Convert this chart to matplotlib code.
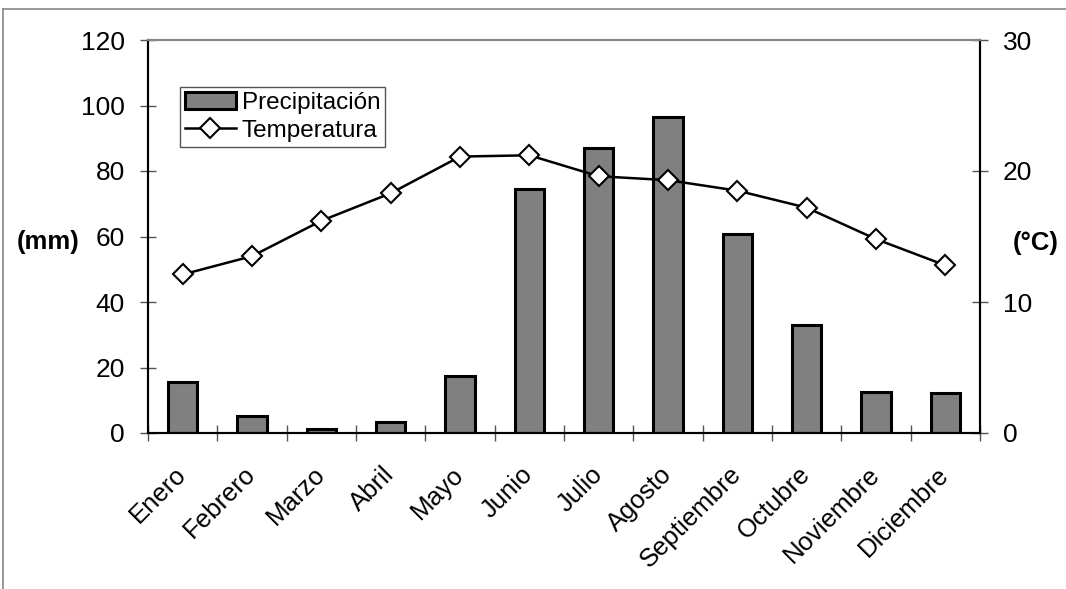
import numpy as np
import matplotlib.pyplot as plt
from matplotlib.lines import Line2D

plt.rcParams['font.family'] = ['Liberation Sans', 'DejaVu Sans']

meses = ['Enero', 'Febrero', 'Marzo', 'Abril', 'Mayo', 'Junio', 'Julio',
         'Agosto', 'Septiembre', 'Octubre', 'Noviembre', 'Diciembre']
precipitacion = [15.7, 5.2, 1.2, 3.4, 17.4, 74.5, 87.1, 96.6, 60.8, 33.0, 12.4, 12.3]
temperatura = [12.1, 13.5, 16.2, 18.3, 21.1, 21.2, 19.6, 19.3, 18.5, 17.2, 14.8, 12.8]

W, H = 1066, 589
fig = plt.figure(figsize=(W / 100, H / 100), dpi=100)
ax = fig.add_axes([148 / W, 1 - 433 / H, (980 - 148) / W, (433 - 40) / H])
ax2 = ax.twinx()

x = np.arange(len(meses))
bars = ax.bar(x, precipitacion, width=0.42, color='#808080', edgecolor='black',
              linewidth=2.2, label='Precipitación', zorder=2)
line, = ax2.plot(x, temperatura, color='black', linewidth=1.8, marker='D',
                 markersize=9.7, markerfacecolor='white', markeredgecolor='black',
                 markeredgewidth=1.5, label='Temperatura', zorder=3)

ax.set_xlim(-0.5, 11.5)
ax.set_ylim(0, 120)
ax2.set_ylim(0, 30)
ax.set_yticks(range(0, 121, 20))
ax2.set_yticks(range(0, 31, 10))

# category labels in the middle, tick marks at the boundaries
ax.set_xticks(x)
ax.set_xticklabels(meses, rotation=45, ha='right', va='center', rotation_mode='anchor')
ax.set_xticks(np.arange(-0.5, 12, 1), minor=True)
ax.tick_params(axis='x', which='major', length=0, pad=27, labelsize=18.5)
ax.tick_params(axis='x', which='minor', direction='inout', length=11, width=1, color='#555555')
ax.tick_params(axis='y', direction='inout', length=11, width=1, color='#555555',
               pad=11, labelsize=19)
ax2.tick_params(axis='y', direction='inout', length=11, width=1, color='#555555',
                pad=11, labelsize=19)

for a in (ax, ax2):
    a.spines['left'].set_linewidth(1.5)
    a.spines['bottom'].set_linewidth(1.5)
    a.spines['right'].set_linewidth(1.5)
    a.spines['top'].set_color('#888888')
    a.spines['top'].set_linewidth(1.5)

fig.text(48 / W, 1 - 242 / H, '(mm)', fontsize=18.5, fontweight='bold', ha='center', va='center')
fig.text(1036 / W, 1 - 243 / H, '(°C)', fontsize=18.5, fontweight='bold', ha='center', va='center')

leg = ax2.legend([bars, line], ['Precipitación', 'Temperatura'], loc='upper left',
                 bbox_to_anchor=(180 / W, 1 - 87 / H), bbox_transform=fig.transFigure,
                 fontsize=17.5, fancybox=False, framealpha=1, edgecolor='#555555',
                 handlelength=2.1, handletextpad=0.25, borderpad=0.2, labelspacing=0.25,
                 borderaxespad=0)
leg.get_frame().set_linewidth(1)

# outer frame of the chart area
fig.add_artist(Line2D([3 / W, 1], [1 - 9 / H, 1 - 9 / H], transform=fig.transFigure,
                      color='#888888', linewidth=1.2))
fig.add_artist(Line2D([3 / W, 3 / W], [0, 1 - 9 / H], transform=fig.transFigure,
                      color='#888888', linewidth=1.2))

fig.savefig('out.png', dpi=100)
